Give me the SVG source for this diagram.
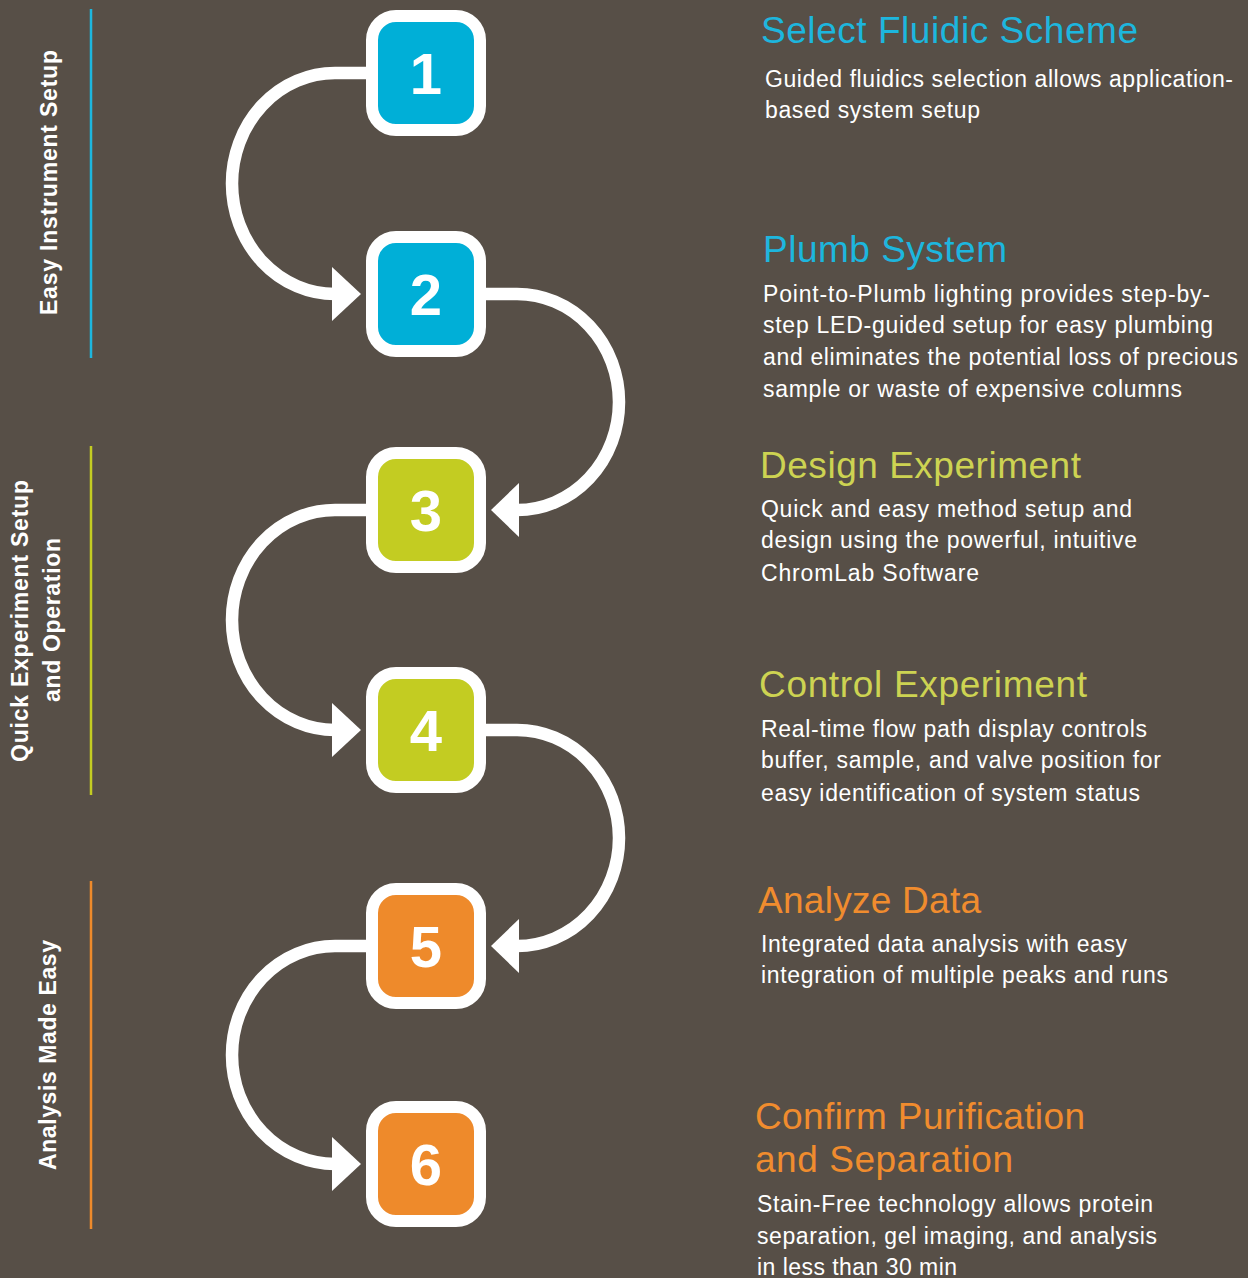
<svg xmlns="http://www.w3.org/2000/svg" width="1248" height="1278" viewBox="0 0 1248 1278">
<style>
.bg{fill:#574f47}
.node rect{stroke:#fff;stroke-width:12}
.num{font-family:"Liberation Sans",Arial,sans-serif;font-weight:bold;font-size:58px;fill:#fff;text-anchor:middle}
.conn path{fill:none;stroke:#fff;stroke-width:12.5}
.conn polygon{fill:#fff}
.side{font-family:"Liberation Sans",Arial,sans-serif;font-weight:bold;font-size:23px;fill:#fff;text-anchor:middle}
.title{font-family:"Liberation Sans",Arial,sans-serif;font-size:37px}
.body{font-family:"Liberation Sans",Arial,sans-serif;font-size:23px;fill:#fff}
.blue{fill:#00afd7}
.lime{fill:#c3cc22}
.orange{fill:#ee8a2b}
.tblue{fill:#1db6de}
.tlime{fill:#cdd352}
.torange{fill:#f08c2e}
</style>
<rect class="bg" x="0" y="0" width="1248" height="1278"/>

<g id="sections">
  <line x1="91" y1="9" x2="91" y2="358" stroke="#1db6de" stroke-width="2.5"/>
  <line x1="91" y1="446" x2="91" y2="795" stroke="#c3cc22" stroke-width="2.5"/>
  <line x1="91" y1="881" x2="91" y2="1229" stroke="#ee8a2b" stroke-width="2.5"/>
  <text class="side" transform="translate(57,182.5) rotate(-90)" textLength="265" lengthAdjust="spacing">Easy Instrument Setup</text>
  <text class="side" transform="translate(28,621) rotate(-90)" textLength="282" lengthAdjust="spacing">Quick Experiment Setup</text>
  <text class="side" transform="translate(60,620) rotate(-90)" textLength="164" lengthAdjust="spacing">and Operation</text>
  <text class="side" transform="translate(56,1055) rotate(-90)" textLength="230" lengthAdjust="spacing">Analysis Made Easy</text>
</g>

<g id="connectors" class="conn">
  <path d="M366,73 H335 A103,110.5 0 0 0 335,294 H338"/>
  <polygon points="332,267 361,294 332,321"/>
  <path d="M486,294 H517 A102,108 0 0 1 517,510"/>
  <polygon points="519,483 491,510 519,537"/>
  <path d="M366,510 H335 A103,110 0 0 0 335,730 H338"/>
  <polygon points="332,703 361,730 332,757"/>
  <path d="M486,730 H517 A102,108 0 0 1 517,946"/>
  <polygon points="519,919 491,946 519,973"/>
  <path d="M366,946 H335 A103,109 0 0 0 335,1164 H338"/>
  <polygon points="332,1137 361,1164 332,1191"/>
</g>

<g id="node1" class="node">
  <rect class="blue" x="372" y="16" width="108" height="114" rx="24"/>
  <text class="num" x="426" y="94">1</text>
</g>
<g id="node2" class="node">
  <rect class="blue" x="372" y="237" width="108" height="114" rx="24"/>
  <text class="num" x="426" y="315">2</text>
</g>
<g id="node3" class="node">
  <rect class="lime" x="372" y="453" width="108" height="114" rx="24"/>
  <text class="num" x="426" y="531">3</text>
</g>
<g id="node4" class="node">
  <rect class="lime" x="372" y="673" width="108" height="114" rx="24"/>
  <text class="num" x="426" y="751">4</text>
</g>
<g id="node5" class="node">
  <rect class="orange" x="372" y="889" width="108" height="114" rx="24"/>
  <text class="num" x="426" y="967">5</text>
</g>
<g id="node6" class="node">
  <rect class="orange" x="372" y="1107" width="108" height="114" rx="24"/>
  <text class="num" x="426" y="1185">6</text>
</g>

<g id="text1">
  <text class="title tblue" x="761" y="43" textLength="377" lengthAdjust="spacing">Select Fluidic Scheme</text>
  <text class="body" x="765" y="87" textLength="468" lengthAdjust="spacing">Guided fluidics selection allows application-</text>
  <text class="body" x="765" y="118" textLength="215" lengthAdjust="spacing">based system setup</text>
</g>
<g id="text2">
  <text class="title tblue" x="763" y="262" textLength="244" lengthAdjust="spacing">Plumb System</text>
  <text class="body" x="763" y="302" textLength="447" lengthAdjust="spacing">Point-to-Plumb lighting provides step-by-</text>
  <text class="body" x="763" y="333" textLength="450" lengthAdjust="spacing">step LED-guided setup for easy plumbing</text>
  <text class="body" x="763" y="365" textLength="475" lengthAdjust="spacing">and eliminates the potential loss of precious</text>
  <text class="body" x="763" y="397" textLength="419" lengthAdjust="spacing">sample or waste of expensive columns</text>
</g>
<g id="text3">
  <text class="title tlime" x="760" y="478" textLength="321" lengthAdjust="spacing">Design Experiment</text>
  <text class="body" x="761" y="517" textLength="371" lengthAdjust="spacing">Quick and easy method setup and</text>
  <text class="body" x="761" y="548" textLength="376" lengthAdjust="spacing">design using the powerful, intuitive</text>
  <text class="body" x="761" y="581" textLength="218" lengthAdjust="spacing">ChromLab Software</text>
</g>
<g id="text4">
  <text class="title tlime" x="759" y="697" textLength="328" lengthAdjust="spacing">Control Experiment</text>
  <text class="body" x="761" y="737" textLength="386" lengthAdjust="spacing">Real-time flow path display controls</text>
  <text class="body" x="761" y="768" textLength="400" lengthAdjust="spacing">buffer, sample, and valve position for</text>
  <text class="body" x="761" y="801" textLength="379" lengthAdjust="spacing">easy identification of system status</text>
</g>
<g id="text5">
  <text class="title torange" x="758" y="913" textLength="223" lengthAdjust="spacing">Analyze Data</text>
  <text class="body" x="761" y="952" textLength="366" lengthAdjust="spacing">Integrated data analysis with easy</text>
  <text class="body" x="761" y="983" textLength="407" lengthAdjust="spacing">integration of multiple peaks and runs</text>
</g>
<g id="text6">
  <text class="title torange" x="755" y="1129" textLength="330" lengthAdjust="spacing">Confirm Purification</text>
  <text class="title torange" x="755" y="1172" textLength="258" lengthAdjust="spacing">and Separation</text>
  <text class="body" x="757" y="1212" textLength="396" lengthAdjust="spacing">Stain-Free technology allows protein</text>
  <text class="body" x="757" y="1244" textLength="400" lengthAdjust="spacing">separation, gel imaging, and analysis</text>
  <text class="body" x="757" y="1275" textLength="200" lengthAdjust="spacing">in less than 30 min</text>
</g>
</svg>
